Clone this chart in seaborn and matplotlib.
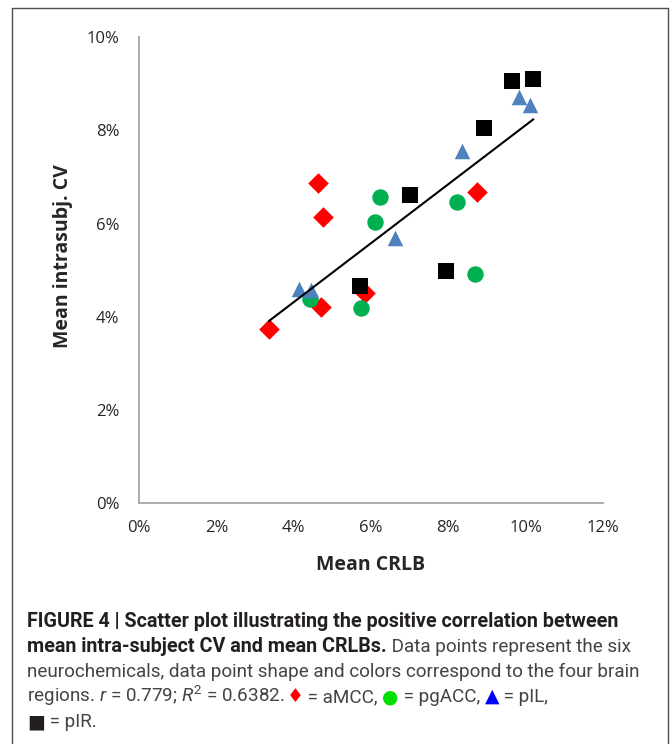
import pandas as pd
import matplotlib.pyplot as plt
import seaborn as sns
from matplotlib import font_manager
from matplotlib.lines import Line2D
from matplotlib.ticker import PercentFormatter


# [1. 데이터] mean CRLB (%) / mean intra-subject CV (%), 6 neurochemicals per region
regions = ['aMCC', 'pgACC', 'pIL', 'pIR']
crlb_amcc = [4.64, 4.77, 8.75, 5.84, 4.71, 3.36]
cv_amcc = [6.86, 6.15, 6.67, 4.52, 4.22, 3.73]
crlb_pgacc = [6.23, 6.10, 8.23, 8.69, 4.42, 5.74]
cv_pgacc = [6.56, 6.03, 6.47, 4.92, 4.38, 4.18]
crlb_pil = [9.83, 10.11, 8.36, 6.62, 4.14, 4.45]
cv_pil = [8.71, 8.54, 7.56, 5.70, 4.59, 4.57]
crlb_pir = [9.64, 10.20, 8.93, 7.01, 7.93, 5.72]
cv_pir = [9.06, 9.09, 8.05, 6.61, 4.98, 4.65]

x_ticks = [0, 2, 4, 6, 8, 10, 12]
y_ticks = [0, 2, 4, 6, 8, 10]

df = pd.DataFrame({
    'region': [r for r in regions for _ in range(6)],
    'crlb': crlb_amcc + crlb_pgacc + crlb_pil + crlb_pir,
    'cv': cv_amcc + cv_pgacc + cv_pil + cv_pir,
})

# [2. 스타일]
sns.set_style('white')
names = {f.name for f in font_manager.fontManager.ttflist}
cap_font = 'Liberation Sans Narrow' if 'Liberation Sans Narrow' in names else 'Roboto'
plt.rcParams['font.family'] = ['Open Sans', 'DejaVu Sans']
plt.rcParams['mathtext.fontset'] = 'custom'
plt.rcParams['mathtext.rm'] = cap_font
plt.rcParams['mathtext.it'] = cap_font + ':italic'

colors = {'aMCC': '#ff0000', 'pgACC': '#00b050', 'pIL': '#4f81bd', 'pIR': '#000000'}
markers = {'aMCC': 'D', 'pgACC': 'o', 'pIL': '^', 'pIR': 's'}
sizes = {'aMCC': 110, 'pgACC': 140, 'pIL': 125, 'pIR': 140}

fig = plt.figure(figsize=(6.7, 7.44), dpi=100)
ax = fig.add_axes([0.2075, 0.3235, 0.6925, 0.6268])

# [3. 산점도] series order like Excel -> later ones on top
for r in regions:
    sns.scatterplot(data=df[df['region'] == r], x='crlb', y='cv', ax=ax,
                    color=colors[r], marker=markers[r], s=sizes[r],
                    linewidth=0, legend=False, zorder=3)

# [4. 추세선]
sns.regplot(data=df, x='crlb', y='cv', ax=ax, scatter=False, ci=None,
            color='black', truncate=True, line_kws={'linewidth': 1.5, 'zorder': 4})

ax.set_xlim(0, 12)
ax.set_ylim(0, 10)
ax.set_xticks(x_ticks)
ax.set_yticks(y_ticks)
ax.xaxis.set_major_formatter(PercentFormatter(decimals=0))
ax.yaxis.set_major_formatter(PercentFormatter(decimals=0))
ax.tick_params(axis='both', length=0, labelsize=12, labelcolor='#262626')
ax.tick_params(axis='x', pad=12)
ax.tick_params(axis='y', pad=14)
for s in ['top', 'right']:
    ax.spines[s].set_visible(False)
for s in ['left', 'bottom']:
    ax.spines[s].set_color('#a6a6a6')
    ax.spines[s].set_linewidth(1.3)

ax.set_xlabel('Mean CRLB', fontsize=14, fontweight='bold', va='center')
ax.set_ylabel('Mean intrasubj. CV', fontsize=14, fontweight='bold', va='center')
ax.xaxis.set_label_coords(0.5, -0.132)
ax.yaxis.set_label_coords(-0.164, 0.53)

# [5. 캡션]
W, H = 670, 744
fam = [cap_font, 'DejaVu Sans']
dark = '#231f20'
gray = '#444444'

# (text, color, weight, size)
lines = [
    [('FIGURE 4 | Scatter plot illustrating the positive correlation between', dark, 'bold', 14.2)],
    [('mean intra-subject CV and mean CRLBs.', dark, 'bold', 14.2),
     (' Data points represent the six', gray, 'normal', 13.6)],
    [('neurochemicals, data point shape and colors correspond to the four brain', gray, 'normal', 13.6)],
    [('regions. $r$ = 0.779; $R^2$ = 0.6382. ', gray, 'normal', 13.6),
     ('\u2666', '#ff0000', 'normal', 13.6), (' = aMCC, ', gray, 'normal', 13.6),
     ('\u25cf', '#00e000', 'normal', 13.6), (' = pgACC, ', gray, 'normal', 13.6),
     ('\u25b2', '#0000ff', 'normal', 13.6), (' = pIL,', gray, 'normal', 13.6)],
    [('\u25a0', dark, 'normal', 13.6), (' = pIR.', gray, 'normal', 13.6)],
]
baselines = [627, 652, 677, 702, 727]

# 줄 단위로 이어 붙이기 (renderer로 폭 계산)
fig.canvas.draw()
renderer = fig.canvas.get_renderer()
for parts, b in zip(lines, baselines):
    xpx = 27
    for txt, col, wt, fs in parts:
        t = fig.text(xpx / W, 1 - b / H, txt, color=col, fontweight=wt,
                     fontsize=fs, family=fam, va='baseline', ha='left')
        xpx += t.get_window_extent(renderer).width

# 테두리
kw = dict(color='#4d4d4d', linewidth=1, transform=fig.transFigure)
fig.add_artist(Line2D([11.5 / W, 11.5 / W], [0, 1 - 8 / H], **kw))
fig.add_artist(Line2D([11.5 / W, 668 / W], [1 - 8 / H, 1 - 8 / H], **kw))
fig.add_artist(Line2D([668 / W, 668 / W], [0, 1 - 8 / H], **kw))

plt.savefig('out.png', dpi=100)
